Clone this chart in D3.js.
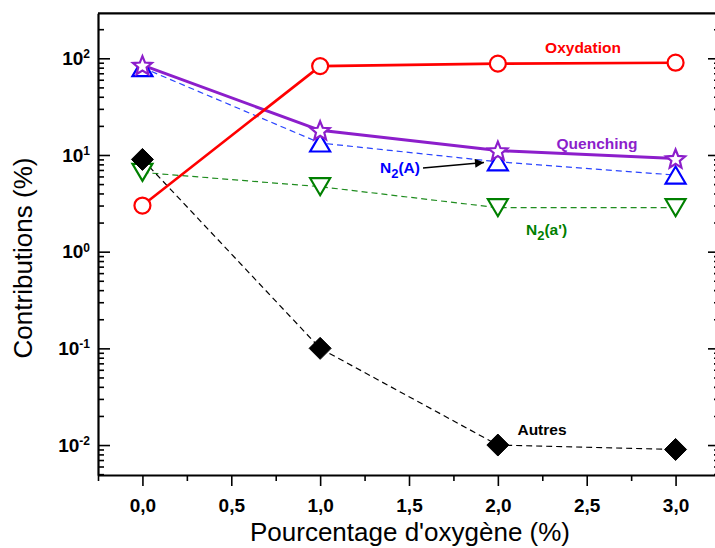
<!DOCTYPE html>
<html>
<head>
<meta charset="utf-8">
<script src="https://cdn.jsdelivr.net/npm/d3@7"></script>
<style>
  html, body { margin: 0; padding: 0; background: #fff; }
  svg { display: block; }
  text { font-family: Arial, "Liberation Sans", sans-serif; }
</style>
</head>
<body>
<svg id="chart" width="715" height="548"></svg>
<script>
// ---------- data ----------
const oxygen = [0, 1, 2, 3];
const oxydation = [3.0, 83, 88, 90];
const quenching = [85, 18, 11.1, 9.2];
const n2A = [80, 13.3, 8.5, 6.2];
const n2aPrime = [6.6, 4.7, 2.85, 2.85];
const autres = [9.0, 0.1, 0.01, 0.009];
const xTickValues = [0, 0.5, 1, 1.5, 2, 2.5, 3];
const xMinorTicks = [-0.25, 0.25, 0.75, 1.25, 1.75, 2.25, 2.75, 3.25];
const yMajorExp = [-2, -1, 0, 1, 2];

(function () {
// ---------- layout ----------
const svg = d3.select("#chart");
const pLeft = 98, pRight = 720, pTop = 13.3, pBottom = 475;
const x = d3.scaleLinear().domain([-0.25, 3.25]).range([pLeft, pRight]);
const y = d3.scaleLog().domain([0.0049, 292]).range([pBottom, pTop]);

const majorVals = yMajorExp.map(e => Math.pow(10, e));
const minorVals = [];
for (let e = -3; e <= 2; e++) {
  for (let m = 2; m <= 9; m++) {
    const v = m * Math.pow(10, e);
    if (v >= y.domain()[0] && v <= y.domain()[1]) minorVals.push(v);
  }
}

// ---------- axes ----------
const gx = svg.append("g").attr("transform", `translate(0,${pBottom})`)
  .call(d3.axisBottom(x).tickValues(xTickValues).tickSize(11).tickSizeOuter(0).tickPadding(13)
        .tickFormat(d => d3.format(".1f")(d).replace(".", ",")));
gx.selectAll("text").attr("font-size", 19).attr("font-weight", "bold")
  .attr("font-family", "Arial, 'Liberation Sans', sans-serif").attr("fill", "#000");
gx.append("g").call(d3.axisBottom(x).tickValues(xMinorTicks).tickSize(6).tickFormat(""))
  .select(".domain").remove();
gx.selectAll("line").attr("stroke-width", 1.6);
gx.select(".domain").attr("stroke-width", 2.2);

const gy = svg.append("g").attr("transform", `translate(${pLeft},0)`)
  .call(d3.axisLeft(y).tickValues(majorVals).tickSize(-12).tickSizeOuter(0).tickPadding(8)
        .tickFormat(() => ""));
gy.selectAll(".tick text").each(function(d) {
  const t = d3.select(this);
  const e = Math.round(Math.log10(d));
  t.attr("font-size", 19).attr("font-weight", "bold").attr("fill", "#000")
   .attr("font-family", "Arial, 'Liberation Sans', sans-serif");
  t.append("tspan").text("10");
  t.append("tspan").attr("dy", "-0.55em").attr("font-size", 12).text(String(e));
});
gy.append("g").call(d3.axisLeft(y).tickValues(minorVals).tickSize(-6).tickFormat(""))
  .select(".domain").remove();
gy.selectAll("line").attr("stroke-width", 1.6);
gy.select(".domain").attr("stroke-width", 2.2);

const gr = svg.append("g").attr("transform", `translate(${pRight},0)`)
  .call(d3.axisRight(y).tickValues(majorVals).tickSize(-12).tickSizeOuter(0).tickFormat(""));
gr.append("g").call(d3.axisRight(y).tickValues(minorVals).tickSize(-6).tickFormat(""))
  .select(".domain").remove();
gr.selectAll("line").attr("stroke-width", 1.6);
gr.select(".domain").attr("stroke-width", 2.2);

svg.append("line").attr("x1", pLeft).attr("x2", pRight).attr("y1", pTop).attr("y2", pTop)
  .attr("stroke", "#000").attr("stroke-width", 2.2);

svg.append("text").attr("x", 410).attr("y", 541).attr("text-anchor", "middle")
  .attr("font-size", 26).attr("fill", "#000").text("Pourcentage d'oxygène (%)");
svg.append("text").attr("transform", "translate(32,258) rotate(-90)").attr("text-anchor", "middle")
  .attr("font-size", 26).attr("fill", "#000").text("Contributions (%)");

// ---------- series ----------
const series = [
  { vals: n2aPrime, color: "#1f8c1f", mcolor: "#008000", dash: "6,4", width: 1.2, marker: "tdown" },
  { vals: autres, color: "#000", mcolor: "#000", dash: "6,4", width: 1.2, marker: "diamond" },
  { vals: n2A, color: "#2a44ff", mcolor: "#0000ff", dash: "6,4", width: 1.2, marker: "tup" },
  { vals: quenching, color: "#8c1ecb", mcolor: "#8c1ecb", dash: null, width: 3, marker: "star" },
  { vals: oxydation, color: "#ff0000", mcolor: "#ff0000", dash: null, width: 2.6, marker: "circle" }
];

const line = d3.line().x((d, i) => x(oxygen[i])).y(d => y(d));
series.forEach(s => {
  svg.append("path").datum(s.vals).attr("d", line).attr("fill", "none")
    .attr("stroke", s.color).attr("stroke-width", s.width)
    .attr("stroke-dasharray", s.dash);
});

const sym = {
  circle: d3.symbol().type(d3.symbolCircle).size(Math.PI * 8 * 8)(),
  star: (() => {
    const pts = [];
    for (let k = 0; k < 10; k++) {
      const r = k % 2 === 0 ? 10 : 4.4;
      const a = -Math.PI / 2 + k * Math.PI / 5;
      pts.push([r * Math.cos(a), r * Math.sin(a) + 1]);
    }
    return "M" + pts.map(p => p.join(",")).join("L") + "Z";
  })(),
  tup: "M0,-8.5L10,8.5L-10,8.5Z",
  tdown: "M0,8.5L10,-8.5L-10,-8.5Z",
  diamond: "M0,-11L11,0L0,11L-11,0Z"
};

series.forEach(s => {
  svg.append("g").selectAll("path").data(s.vals).join("path")
    .attr("transform", (d, i) => `translate(${x(oxygen[i])},${y(d)})`)
    .attr("d", sym[s.marker])
    .attr("fill", s.marker === "diamond" ? "#000" : "#fff")
    .attr("stroke", s.mcolor).attr("stroke-width", s.marker === "diamond" ? 1 : 2.2)
    .attr("stroke-linejoin", "miter");
});

// ---------- annotations ----------
svg.append("text").attr("x", 583).attr("y", 53).attr("text-anchor", "middle")
  .attr("font-size", 15.5).attr("font-weight", "bold").attr("fill", "#ff0000").text("Oxydation");
svg.append("text").attr("x", 597).attr("y", 149).attr("text-anchor", "middle")
  .attr("font-size", 15.5).attr("font-weight", "bold").attr("fill", "#8c1ecb").text("Quenching");
svg.append("text").attr("x", 542).attr("y", 435).attr("text-anchor", "middle")
  .attr("font-size", 15.5).attr("font-weight", "bold").attr("fill", "#000").text("Autres");

const tA = svg.append("text").attr("x", 380).attr("y", 173).attr("font-size", 15.5)
  .attr("font-weight", "bold").attr("fill", "#0000ff");
tA.append("tspan").text("N");
tA.append("tspan").attr("dy", 5).attr("font-size", 13).text("2");
tA.append("tspan").attr("dy", -5).text("(A)");

const tB = svg.append("text").attr("x", 526).attr("y", 235).attr("font-size", 15.5)
  .attr("font-weight", "bold").attr("fill", "#008000");
tB.append("tspan").text("N");
tB.append("tspan").attr("dy", 5).attr("font-size", 13).text("2");
tB.append("tspan").attr("dy", -5).text("(a')");

svg.append("defs").append("marker").attr("id", "ah").attr("viewBox", "0 0 10 10")
  .attr("refX", 10).attr("refY", 5).attr("markerWidth", 16).attr("markerHeight", 9)
  .attr("markerUnits", "userSpaceOnUse").attr("orient", "auto")
  .append("path").attr("d", "M0,0L10,5L0,10Z").attr("fill", "#000");
svg.append("line").attr("x1", 423).attr("y1", 168).attr("x2", 484).attr("y2", 162.5)
  .attr("stroke", "#000").attr("stroke-width", 1.3).attr("marker-end", "url(#ah)");
})();
</script>
</body>
</html>
